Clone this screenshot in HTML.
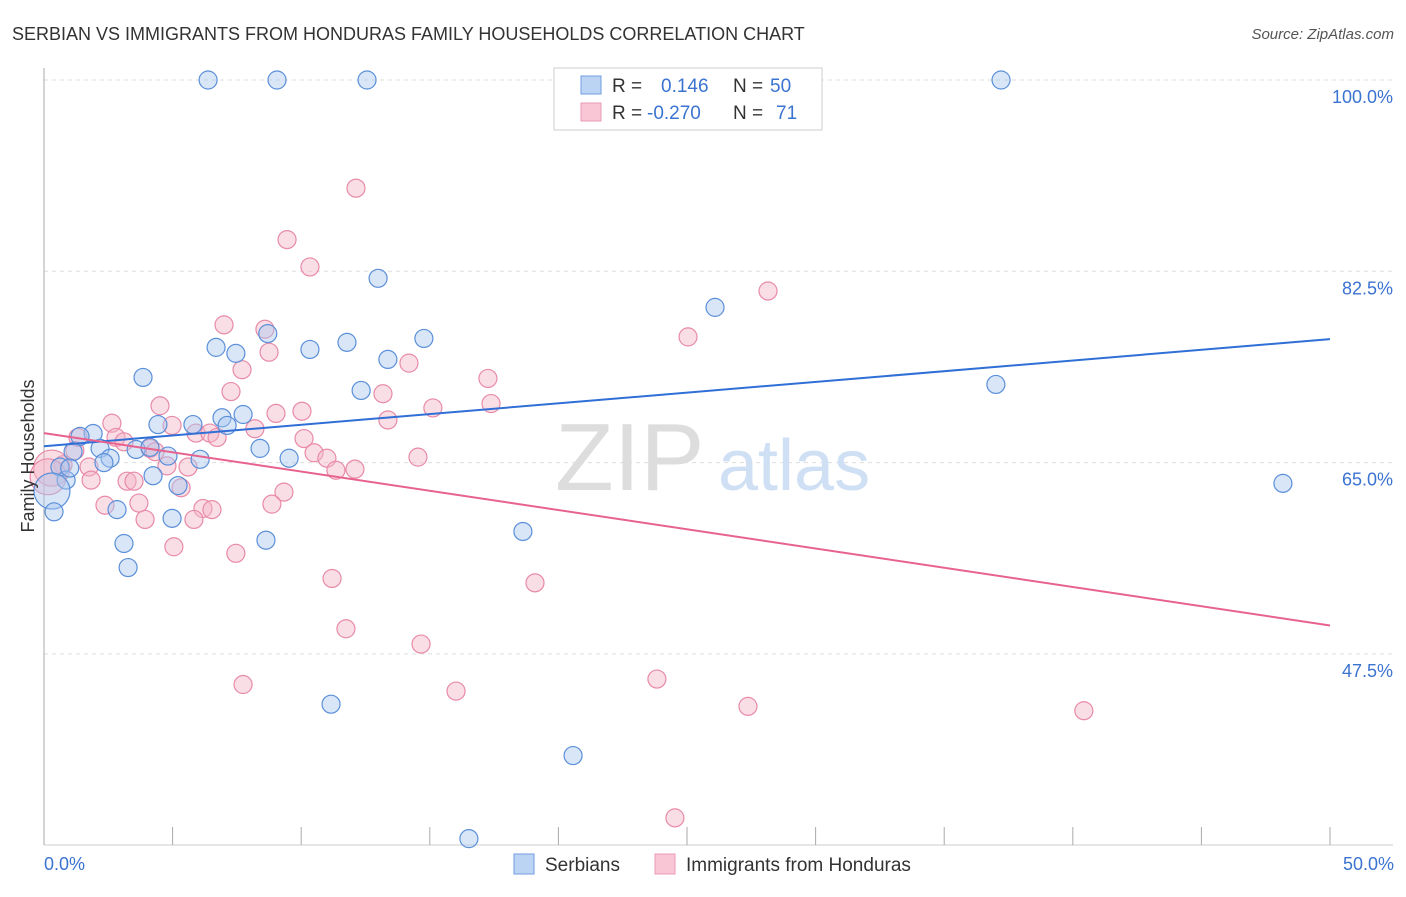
<!DOCTYPE html>
<html><head><meta charset="utf-8"><style>
body{margin:0;background:#fff;font-family:"Liberation Sans",sans-serif;}
svg text{font-family:"Liberation Sans",sans-serif;}
</style></head><body>
<svg width="1406" height="892" viewBox="0 0 1406 892">
<text x="12" y="40" font-size="18" fill="#333">SERBIAN VS IMMIGRANTS FROM HONDURAS FAMILY HOUSEHOLDS CORRELATION CHART</text>
<text x="1394" y="39" font-size="15" fill="#555" text-anchor="end" font-style="italic">Source: ZipAtlas.com</text>
<g id="grid"></g>
<text x="555" y="490" font-size="96" fill="#ddd" font-family="Liberation Serif">ZIP</text>
<text x="718" y="490" font-size="72" fill="#cfe0f5">atlas</text>
<g id="pts"></g>
<g id="lines"></g>
<text transform="translate(34,456) rotate(-90)" font-size="18" fill="#333" text-anchor="middle">Family Households</text>
<text x="44" y="870" font-size="18" fill="#3b73d1">0.0%</text>
<text x="1394" y="870" font-size="18" fill="#3b73d1" text-anchor="end">50.0%</text>
<g>
<rect x="554" y="68" width="268" height="62" fill="#fff" stroke="#ccc"/>
<rect x="581" y="76" width="20" height="18" fill="#bcd4f4" stroke="#6f9ee0"/>
<rect x="581" y="103" width="20" height="18" fill="#f8c6d5" stroke="#eb9ab4"/>
<text x="612" y="92" font-size="19" fill="#333">R =</text>
<text x="661" y="92" font-size="19" fill="#3b73d1">0.146</text>
<text x="733" y="92" font-size="19" fill="#333">N =</text>
<text x="770" y="92" font-size="19" fill="#3b73d1">50</text>
<text x="612" y="119" font-size="19" fill="#333">R =</text>
<text x="647" y="119" font-size="19" fill="#3b73d1">-0.270</text>
<text x="733" y="119" font-size="19" fill="#333">N =</text>
<text x="776" y="119" font-size="19" fill="#3b73d1">71</text>
</g>
<g>
<rect x="514" y="854" width="20" height="20" fill="#bcd4f4" stroke="#6f9ee0"/>
<text x="545" y="871" font-size="19" fill="#333">Serbians</text>
<rect x="655" y="854" width="20" height="20" fill="#f8c6d5" stroke="#eb9ab4"/>
<text x="686" y="871" font-size="19" fill="#333">Immigrants from Honduras</text>
</g>
</svg>
<script>
const yTicks=[100,82.5,65,47.5];
const xTickVals=[0,5,10,15,20,25,30,35,40,45,50];
const blueX=[6.38,9.06,12.56,37.21,12.99,26.09,6.69,8.7,7.46,10.34,11.78,14.77,13.37,3.85,12.33,37.01,7.74,6.92,5.79,4.43,7.12,1.91,1.4,8.4,3.58,4.12,2.18,1.13,4.82,2.57,6.07,9.53,2.33,0.62,4.24,0.86,5.21,0.31,0.39,2.84,4.98,3.11,8.63,18.62,3.27,48.17,11.16,20.57,16.52,1.0];
const blueY=[100,100,100,100,81.86,79.2,75.54,76.8,74.99,75.35,76.0,76.36,74.44,72.79,71.6,72.15,69.4,69.1,68.48,68.48,68.4,67.66,67.4,66.3,66.2,66.4,66.3,66.0,65.6,65.4,65.3,65.4,65.0,64.6,63.8,63.4,62.9,62.4,60.5,60.7,59.9,57.6,57.9,58.7,55.4,63.1,42.9,38.2,30.6,64.5];
const pinkX=[12.13,9.45,10.34,28.15,7.0,8.59,25.04,8.75,7.7,14.19,17.26,7.27,13.18,17.38,4.51,15.12,9.02,10.03,13.37,2.64,4.98,8.2,5.91,6.45,6.73,1.32,2.8,3.11,10.11,4.12,10.5,4.32,1.2,11.0,14.54,5.6,4.78,1.75,0.74,0.3,11.35,12.09,0.16,1.83,3.23,3.5,5.33,9.33,3.69,2.37,8.86,6.18,6.53,3.93,5.83,5.05,7.46,11.2,19.09,11.74,14.66,7.74,16.02,23.83,27.37,40.43,24.53];
const pinkY=[90.1,85.4,82.9,80.7,77.6,77.2,76.5,75.1,73.5,74.1,72.7,71.5,71.3,70.4,70.2,70.0,69.5,69.7,68.9,68.6,68.4,68.1,67.7,67.7,67.3,67.3,67.3,66.9,67.2,66.3,65.9,66.0,66.1,65.4,65.5,64.6,64.7,64.6,64.8,64.5,64.3,64.4,63.7,63.4,63.3,63.3,62.7,62.3,61.3,61.1,61.2,60.8,60.7,59.8,59.8,57.3,56.7,54.4,54.0,49.8,48.4,44.7,44.1,45.2,42.7,42.3,32.5];
const blueTrend=[66.5,76.3];
const pinkTrend=[67.7,50.1];
const NS='http://www.w3.org/2000/svg';
const sx=v=>44+v/50*1286;
const sy=v=>80+(100-v)/17.5*191.3;
function mk(t,a,p){const e=document.createElementNS(NS,t);for(const k in a)e.setAttribute(k,a[k]);p.appendChild(e);return e;}
const grid=document.getElementById('grid');
yTicks.forEach(v=>{
 const l=mk('line',{x1:44,x2:1393,y1:sy(v),y2:sy(v),stroke:'#ddd','stroke-dasharray':'4,4'},grid);
 
 
 const t=mk('text',{x:1393,y:sy(v)+23,'font-size':18,fill:'#3b73d1','text-anchor':'end'},grid);
 t.textContent=v.toFixed(1)+'%';
 
 
});
const ax=mk('line',{x1:44,x2:44,y1:68,y2:845,stroke:'#aaa'},grid);


const bx=mk('line',{x1:44,x2:1393,y1:845,y2:845,stroke:'#ccc'},grid);


xTickVals.forEach(v=>{
 const l=mk('line',{x1:sx(v),x2:sx(v),y1:827,y2:845,stroke:'#aaa'},grid);
 
 
});
const pts=document.getElementById('pts');
function dots(X,Y,fill,stroke,name){
 X.forEach((x,i)=>{
  const big=(x<0.5&&Math.abs(Y[i]-63)<2);
  const c=mk('circle',{cx:sx(x),cy:sy(Y[i]),r:big?18:9,fill:fill,'fill-opacity':0.45,stroke:stroke,'stroke-width':1.2},pts);
  
  
 });
}
dots(pinkX,pinkY,'#f4b6c8','#e88aa8','honduras-point');
dots(blueX,blueY,'#a9c8ef','#5b8fd9','serbian-point');
const lines=document.getElementById('lines');
const bl=mk('line',{x1:sx(0),x2:sx(50),y1:sy(blueTrend[0]),y2:sy(blueTrend[1]),stroke:'#2f6fd6','stroke-width':2},lines);


const pl=mk('line',{x1:sx(0),x2:sx(50),y1:sy(pinkTrend[0]),y2:sy(pinkTrend[1]),stroke:'#e8628e','stroke-width':2},lines);


</script>
</body></html>
